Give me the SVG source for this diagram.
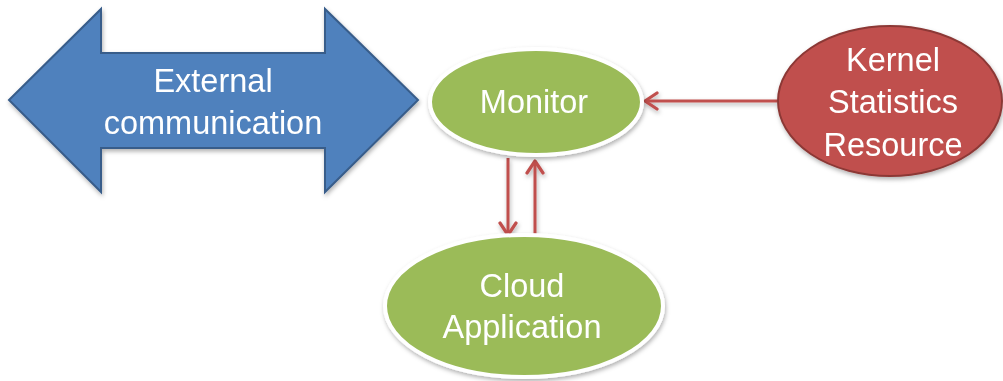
<svg xmlns="http://www.w3.org/2000/svg" width="1003" height="381" viewBox="0 0 1003 381">
  <defs>
    <style>
      .lbl { font-family: "Liberation Sans", Arial, sans-serif; font-size: 32.5px; fill: #ffffff; text-anchor: middle; }
      .green { fill: #9BBB59; stroke: #ffffff; stroke-width: 4; }
      .link { stroke: #C0504D; stroke-width: 3; fill: none; marker-end: url(#head); }
    </style>
    <filter id="shadow" x="-10%" y="-10%" width="125%" height="130%">
      <feDropShadow dx="1" dy="2.5" stdDeviation="2" flood-color="#000000" flood-opacity="0.3"/>
    </filter>
    <marker id="head" viewBox="0 0 16 20" refX="14" refY="10" markerWidth="16" markerHeight="20" markerUnits="userSpaceOnUse" orient="auto">
      <path d="M2,2 L14,10 L2,18" fill="none" stroke="#C0504D" stroke-width="3.2" stroke-linecap="round" stroke-linejoin="round"/>
    </marker>
  </defs>

  <rect width="1003" height="381" fill="#ffffff"/>

  <!-- connectors -->
  <g id="connectors" filter="url(#shadow)">
    <line class="link" x1="777" y1="101" x2="645" y2="101"/>
    <line class="link" x1="508" y1="158" x2="508" y2="235"/>
    <line class="link" x1="535" y1="238" x2="535" y2="161"/>
  </g>

  <!-- double-headed arrow -->
  <g id="external" filter="url(#shadow)">
    <polygon points="9,100 101,9 101,53 325,53 325,9 418,100 325,192 325,148 101,148 101,192" fill="#4F81BD" stroke="#385D8A" stroke-width="2" stroke-linejoin="miter"/>
    <text class="lbl" x="213" y="92">External</text>
    <text class="lbl" x="213" y="134">communication</text>
  </g>

  <!-- monitor -->
  <g id="monitor" filter="url(#shadow)">
    <ellipse class="green" cx="536" cy="102" rx="106" ry="53"/>
    <text class="lbl" x="534" y="113">Monitor</text>
  </g>

  <!-- kernel statistics resource -->
  <g id="kernel" filter="url(#shadow)">
    <ellipse cx="890" cy="101" rx="112" ry="75" fill="#C0504D" stroke="#8C3836" stroke-width="2"/>
    <text class="lbl" x="893" y="71">Kernel</text>
    <text class="lbl" x="893" y="113">Statistics</text>
    <text class="lbl" x="893" y="156">Resource</text>
  </g>

  <!-- cloud application -->
  <g id="cloud" filter="url(#shadow)">
    <ellipse class="green" cx="524" cy="306" rx="139" ry="71"/>
    <text class="lbl" x="522" y="297">Cloud</text>
    <text class="lbl" x="522" y="338">Application</text>
  </g>
</svg>
